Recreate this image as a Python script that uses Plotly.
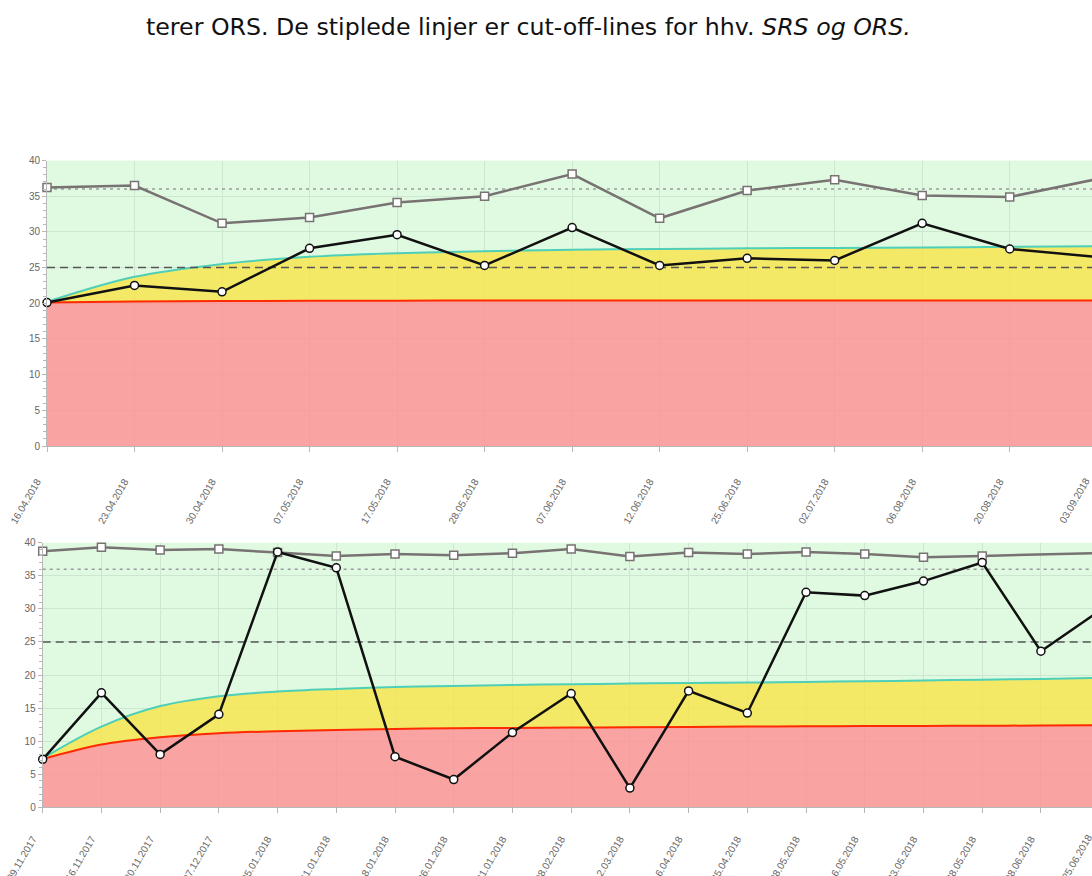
import plotly.graph_objects as go

# ---------------- data ----------------
top_dates = ["16.04.2018", "23.04.2018", "30.04.2018", "07.05.2018", "17.05.2018",
             "28.05.2018", "07.06.2018", "12.06.2018", "25.06.2018", "02.07.2018",
             "06.08.2018", "20.08.2018", "03.09.2018"]
top_srs = [36.2, 36.5, 31.2, 32.0, 34.1, 35.0, 38.1, 31.9, 35.8, 37.3, 35.1, 34.9, 37.4]
top_ors = [20.1, 22.5, 21.6, 27.7, 29.6, 25.3, 30.6, 25.3, 26.3, 26.0, 31.2, 27.6, 26.5]
top_lower = [20.1, 20.25, 20.3, 20.35, 20.35, 20.4, 20.4, 20.4, 20.4, 20.4, 20.4, 20.4, 20.4]
top_upper = [20.2, 23.7, 25.5, 26.5, 27.0, 27.3, 27.5, 27.6, 27.7, 27.75, 27.8, 27.9, 28.0]

bottom_dates = ["09.11.2017", "16.11.2017", "30.11.2017", "07.12.2017", "05.01.2018",
                "11.01.2018", "18.01.2018", "26.01.2018", "31.01.2018", "08.02.2018",
                "12.03.2018", "16.04.2018", "25.04.2018", "08.05.2018", "16.05.2018",
                "23.05.2018", "28.05.2018", "08.06.2018", "25.06.2018"]
bottom_srs = [38.7, 39.3, 38.9, 39.05, 38.5, 38.0, 38.3, 38.1, 38.4, 39.05, 37.9, 38.5,
              38.3, 38.6, 38.3, 37.8, 38.0, None, 38.45]
bottom_ors = [7.25, 17.3, 8.0, 14.05, 38.6, 36.2, 7.65, 4.2, 11.3, 17.2, 2.9, 17.6,
              14.25, 32.5, 32.0, 34.2, 37.0, 23.6, 29.7]
bottom_lower = [7.3, 9.5, 10.6, 11.2, 11.5, 11.7, 11.85, 11.95, 12.0, 12.05, 12.1, 12.15,
                12.2, 12.25, 12.28, 12.3, 12.33, 12.36, 12.4]
bottom_upper = [7.4, 12.2, 15.3, 16.8, 17.5, 17.9, 18.2, 18.35, 18.5, 18.6, 18.7, 18.8,
                18.85, 18.95, 19.05, 19.15, 19.3, 19.4, 19.55]

ORS_CUTOFF = 25
SRS_CUTOFF = 36
y_ticks = [0, 5, 10, 15, 20, 25, 30, 35, 40]

caption = ("terer ORS. De stiplede linjer er cut-off-lines for hhv. "
           "<i>SRS og ORS.</i>")

# ---------------- styles ----------------
W, H = 1092, 876
GREEN_BG = "#e0fae2"
RED_FILL = "rgba(255,141,147,0.8)"
YEL_FILL = "rgba(247,229,71,0.8)"
RED_LINE = "#ff2a00"
CYAN_LINE = "#4fcfb8"
GREY_LINE = "#787272"
GRID = "#cde6d0"
AXIS = "#b8b8b8"
TICKFONT = dict(family="Liberation Sans, Arial, sans-serif", size=10, color="#666666")

panels = [
    dict(dates=top_dates, srs=top_srs, ors=top_ors, lower=top_lower, upper=top_upper,
         xd=(47 / W, 1.0), yd=(1 - 446 / H, 1 - 160.5 / H), xr=(0, 11.94), sfx="",
         standoff=20),
    dict(dates=bottom_dates, srs=bottom_srs, ors=bottom_ors, lower=bottom_lower,
         upper=bottom_upper, xd=(42.7 / W, 1.0), yd=(1 - 807.3 / H, 1 - 542.7 / H),
         xr=(0, 17.87), sfx="2", standoff=16),
]

fig = go.Figure()
annotations = []
TICKLEN = 5
LABEL_SHIFT = -10

for p in panels:
    n = len(p["dates"])
    xs = list(range(n))
    xa, ya = "x" + p["sfx"], "y" + p["sfx"]
    # red zone
    fig.add_trace(go.Scatter(x=xs, y=p["lower"], xaxis=xa, yaxis=ya, mode="lines",
                             line=dict(width=0, shape="spline", color=RED_LINE),
                             fill="tozeroy", fillcolor=RED_FILL, hoverinfo="skip",
                             showlegend=False))
    # yellow zone
    fig.add_trace(go.Scatter(x=xs, y=p["upper"], xaxis=xa, yaxis=ya, mode="lines",
                             line=dict(width=0, shape="spline", color=CYAN_LINE),
                             fill="tonexty", fillcolor=YEL_FILL, hoverinfo="skip",
                             showlegend=False))
    # boundary lines
    fig.add_trace(go.Scatter(x=xs, y=p["lower"], xaxis=xa, yaxis=ya, mode="lines",
                             line=dict(width=2, shape="spline", color=RED_LINE),
                             hoverinfo="skip", showlegend=False))
    fig.add_trace(go.Scatter(x=xs, y=p["upper"], xaxis=xa, yaxis=ya, mode="lines",
                             line=dict(width=2, shape="spline", color=CYAN_LINE),
                             hoverinfo="skip", showlegend=False))
    # cut-off lines
    fig.add_trace(go.Scatter(x=xs, y=[ORS_CUTOFF] * n, xaxis=xa, yaxis=ya, mode="lines",
                             line=dict(width=1.5, color="#555555", dash="8px,5px"),
                             hoverinfo="skip", showlegend=False))
    fig.add_trace(go.Scatter(x=xs, y=[SRS_CUTOFF] * n, xaxis=xa, yaxis=ya, mode="lines",
                             line=dict(width=1.5, color="#9a9a9a", dash="3px,4px"),
                             hoverinfo="skip", showlegend=False))
    # SRS (grey squares)
    fig.add_trace(go.Scatter(x=xs, y=p["srs"], xaxis=xa, yaxis=ya, mode="lines+markers",
                             connectgaps=True, cliponaxis=False,
                             line=dict(width=2.5, color=GREY_LINE),
                             marker=dict(symbol="square", size=8, color="white",
                                         line=dict(width=1.5, color=GREY_LINE)),
                             name="SRS", showlegend=False))
    # ORS (black circles)
    fig.add_trace(go.Scatter(x=xs, y=p["ors"], xaxis=xa, yaxis=ya, mode="lines+markers",
                             cliponaxis=False,
                             line=dict(width=2.5, color="#111111"),
                             marker=dict(symbol="circle", size=8, color="white",
                                         line=dict(width=1.5, color="#111111")),
                             name="ORS", showlegend=False))

    xaxis = dict(domain=list(p["xd"]), anchor=ya, range=list(p["xr"]),
                 tickvals=xs, ticktext=p["dates"], tickangle=-60, tickfont=TICKFONT,
                 ticks="outside", ticklen=TICKLEN, tickcolor=AXIS,
                 ticklabelstandoff=p["standoff"], ticklabelshift=LABEL_SHIFT,
                 showline=True, linecolor=AXIS, linewidth=1,
                 showgrid=True, gridcolor=GRID, gridwidth=1, zeroline=False,
                 automargin=False, fixedrange=True)
    yaxis = dict(domain=list(p["yd"]), anchor=xa, range=[0, 40], tickvals=y_ticks,
                 tickfont=TICKFONT, ticks="outside", ticklen=4, tickcolor=AXIS,
                 minor=dict(dtick=1, ticks="outside", ticklen=3, tickcolor=AXIS,
                            showgrid=False),
                 showline=True, linecolor=AXIS, linewidth=1,
                 showgrid=True, gridcolor=GRID, gridwidth=1, zeroline=False,
                 automargin=False, fixedrange=True)
    fig.layout["xaxis" + p["sfx"]] = xaxis
    fig.layout["yaxis" + p["sfx"]] = yaxis

    # tick label of the last category, which lies just beyond the cropped right edge
    last = n - 1
    if last > p["xr"][1]:
        d0, d1 = p["xd"]
        fx = d0 + (last - p["xr"][0]) / (p["xr"][1] - p["xr"][0]) * (d1 - d0)
        annotations.append(dict(xref="paper", yref="paper", x=fx, y=p["yd"][0],
                                text=p["dates"][last], showarrow=False, textangle=-60,
                                font=TICKFONT, xanchor="right", yanchor="top",
                                xshift=LABEL_SHIFT + 7,
                                yshift=-(TICKLEN + p["standoff"] + 2)))

annotations.append(dict(xref="paper", yref="paper", x=144 / W, y=1 - 27 / H,
                        text=caption, showarrow=False, xanchor="left", yanchor="middle",
                        font=dict(family="DejaVu Sans, Verdana, sans-serif", size=23.7,
                                  color="#111111")))

fig.update_layout(width=W, height=H, margin=dict(l=0, r=0, t=0, b=0),
                  paper_bgcolor="white", plot_bgcolor=GREEN_BG,
                  annotations=annotations, showlegend=False)

fig.write_html("out.html", config=dict(displayModeBar=False),
               post_script="document.body.style.margin='0';"
                           "document.body.style.overflow='hidden';")
